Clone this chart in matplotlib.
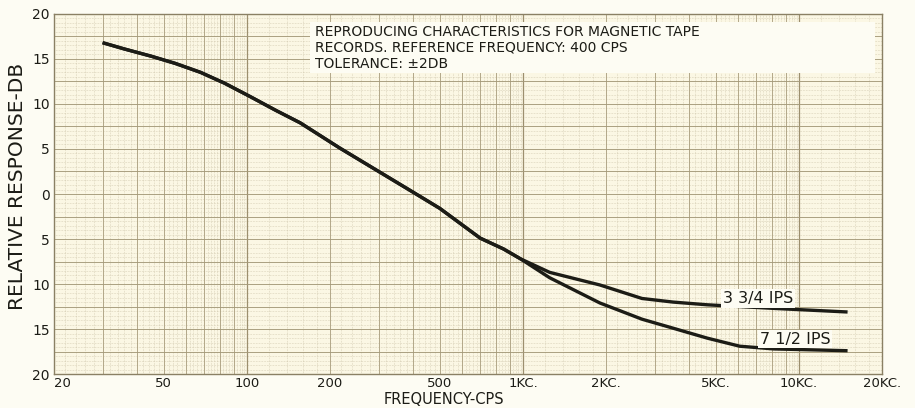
import numpy as np
import matplotlib
matplotlib.use("Agg")
import matplotlib.pyplot as plt
from matplotlib.patches import Rectangle
from matplotlib.ticker import FixedLocator, FixedFormatter, NullLocator

# Werte
freq_common = [30, 36, 45, 55, 68, 83, 103, 127, 156, 217, 304, 400, 500, 700, 850, 980]
db_common = [16.8, 16.1, 15.3, 14.5, 13.5, 12.3, 10.8, 9.3, 7.9, 5.1, 2.4, 0.2, -1.6,
             -4.9, -6.1, -7.2]

freq_high = [1250, 1900, 2700, 3500, 4650, 6100, 8100, 15000]
db_3_75 = [-8.7, -10.1, -11.6, -12.0, -12.3, -12.5, -12.7, -13.1]
db_7_5 = [-9.3, -12.1, -13.9, -14.9, -16.0, -16.9, -17.2, -17.4]

x_ticks = [20, 50, 100, 200, 500, 1000, 2000, 5000, 10000, 20000]
x_labels = ["20", "50", "100", "200", "500", "1KC.", "2KC.", "5KC.", "10KC.", "20KC."]
y_ticks = [20, 15, 10, 5, 0, -5, -10, -15, -20]
y_labels = ["20", "15", "10", "5", "0", "5", "10", "15", "20"]

title_lines = ["REPRODUCING CHARACTERISTICS FOR MAGNETIC TAPE",
               "RECORDS. REFERENCE FREQUENCY: 400 CPS",
               "TOLERANCE: \u00b12DB"]

paper = "#fbf7e4"
white = "#fdfcf3"
ink = "#1c1c16"

fig = plt.figure(figsize=(9.15, 4.08), dpi=100, facecolor=white)
ax = fig.add_axes([0.059, 0.083, 0.905, 0.883])
ax.set_facecolor(paper)
ax.set_xscale("log")
ax.set_xlim(20, 20000)
ax.set_ylim(-20, 20)

# Millimeterpapier nachbilden
for dec in [10, 100, 1000, 10000]:
    for k in range(1, 10):
        f = k * dec
        if 20 < f < 20000:
            c = "#9c8f6e" if k == 1 else "#ada282"
            ax.axvline(f, color=c, lw=0.9 if k == 1 else 0.65, zorder=1)
        for s in np.arange(0.2, 1.0, 0.2):
            fs = (k + s) * dec
            if 20 < fs < 20000:
                ax.axvline(fs, color="#cac1a5", lw=0.45, ls=(0, (1, 1.5)), zorder=0)
for v in np.arange(-17.5, 20, 2.5):
    ax.axhline(v, color="#a49a7a", lw=0.65, zorder=1)
for v in np.arange(-19.5, 20, 0.5):
    if abs(v * 2) % 5 != 0:
        ax.axhline(v, color="#cac1a5", lw=0.45, ls=(0, (1, 1.5)), zorder=0)

# Kurven
ax.plot(freq_common + freq_high, db_common + db_3_75, color=ink, lw=2.4,
        solid_capstyle="butt", zorder=3)
ax.plot(freq_common + freq_high, db_common + db_7_5, color=ink, lw=2.4,
        solid_capstyle="butt", zorder=3)

box = dict(boxstyle="square,pad=0.12", fc=white, ec="none")
ax.text(5300, -11.6, "3 3/4 IPS", fontsize=11.5, color=ink, ha="left", va="center",
        bbox=box, zorder=4)
ax.text(7200, -16.1, "7 1/2 IPS", fontsize=11.5, color=ink, ha="left", va="center",
        bbox=box, zorder=4)

# Titelfeld
ax.add_patch(Rectangle((0.309, 0.836), 0.683, 0.142, transform=ax.transAxes,
                       fc=white, ec="none", zorder=4))
for i, line in enumerate(title_lines):
    ax.text(0.315, 0.951 - i * 0.0445, line, transform=ax.transAxes,
            fontsize=10, color=ink, ha="left", va="center", zorder=5)

ax.xaxis.set_major_locator(FixedLocator(x_ticks))
ax.xaxis.set_major_formatter(FixedFormatter(x_labels))
ax.xaxis.set_minor_locator(NullLocator())
ax.yaxis.set_major_locator(FixedLocator(y_ticks))
ax.yaxis.set_major_formatter(FixedFormatter(y_labels))
ax.tick_params(length=0, labelsize=10, colors=ink, pad=3)
ax.tick_params(axis="x", labelsize=9.5, pad=2)

fig.canvas.draw()
ax.get_xticklabels()[0].set_ha("left")

for sp in ax.spines.values():
    sp.set_color("#8a8064")
    sp.set_linewidth(1.0)

ax.set_xlabel("FREQUENCY-CPS", fontsize=10.5, color=ink, va="center")
ax.xaxis.set_label_coords(0.471, -0.0708)
ax.set_ylabel("RELATIVE RESPONSE-DB", fontsize=14.5, color=ink, va="center")
ax.yaxis.set_label_coords(-0.044, 0.52)

fig.savefig("out.png", dpi=100, facecolor=fig.get_facecolor())
